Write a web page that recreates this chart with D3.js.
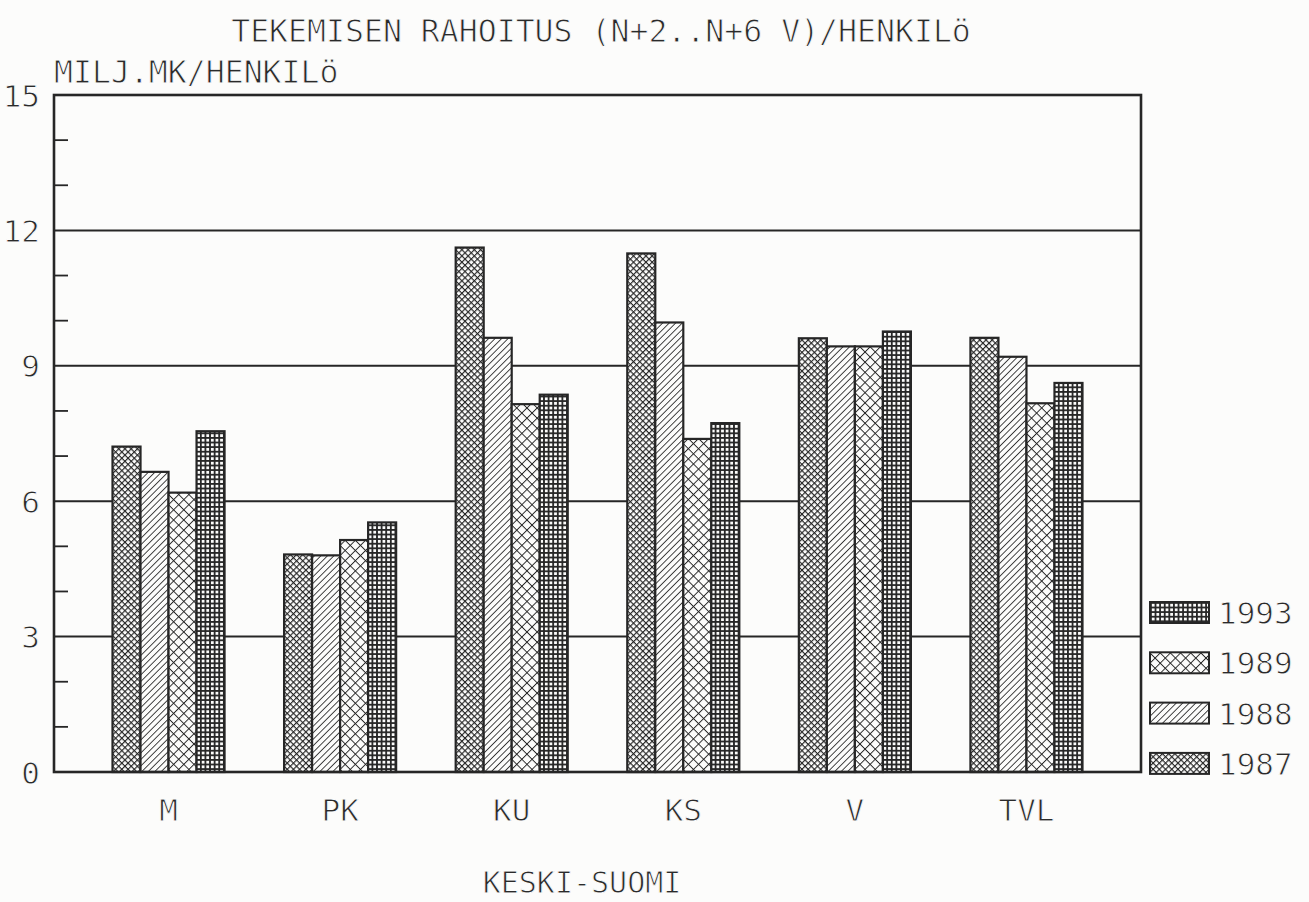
<!DOCTYPE html>
<html>
<head>
<meta charset="utf-8">
<script src="https://cdn.jsdelivr.net/npm/d3@7"></script>
<style>
  html, body { margin: 0; padding: 0; background: #fcfcfb; }
  svg { display: block; }
  text { font-family: "DejaVu Sans Mono", monospace; fill: #2a2a2a; stroke: #fcfcfb; stroke-width: 0.9px; }
</style>
</head>
<body>
<svg id="chart" width="1309" height="902"></svg>
<script>
// Regions and survey years
const regions = ["M", "PK", "KU", "KS", "V", "TVL"];
const years = ["1987", "1988", "1989", "1993"];

// Funding per person (million FIM), one array per year
const v1987 = [7.21, 4.82, 11.62, 11.49, 9.61, 9.62];
const v1988 = [6.65, 4.80, 9.62, 9.96, 9.43, 9.20];
const v1989 = [6.19, 5.14, 8.15, 7.38, 9.43, 8.17];
const v1993 = [7.55, 5.53, 8.36, 7.73, 9.76, 8.62];

const yTicks = [0, 3, 6, 9, 12, 15];
const yMinor = [1, 2, 4, 5, 7, 8, 10, 11, 13, 14];

const title = "TEKEMISEN RAHOITUS (N+2..N+6 V)/HENKILö";
const yTitle = "MILJ.MK/HENKILö";
const xTitle = "KESKI-SUOMI";

const seriesByYear = { "1987": v1987, "1988": v1988, "1989": v1989, "1993": v1993 };
const rows = regions.map((r, i) => ({ region: r, values: years.map(y => ({ year: y, value: seriesByYear[y][i] })) }));

const svg = d3.select("#chart");
const ink = "#262626";
const plotLeft = 54, plotRight = 1141, plotTop = 95, plotBottom = 772;

// Hatch patterns for each year
const defs = svg.append("defs");
function crossHatch(id, size, sw) {
  const p = defs.append("pattern").attr("id", id).attr("patternUnits", "userSpaceOnUse")
    .attr("width", size).attr("height", size).attr("patternTransform", "rotate(45)");
  p.append("rect").attr("width", size).attr("height", size).attr("fill", "#fcfcfb");
  p.append("line").attr("x1", 0).attr("y1", 0).attr("x2", size).attr("y2", 0).attr("stroke", ink).attr("stroke-width", sw);
  p.append("line").attr("x1", 0).attr("y1", 0).attr("x2", 0).attr("y2", size).attr("stroke", ink).attr("stroke-width", sw);
}
function diagonal(id, size, sw) {
  const p = defs.append("pattern").attr("id", id).attr("patternUnits", "userSpaceOnUse")
    .attr("width", size).attr("height", size).attr("patternTransform", "rotate(45)");
  p.append("rect").attr("width", size).attr("height", size).attr("fill", "#fcfcfb");
  p.append("line").attr("x1", 0).attr("y1", 0).attr("x2", 0).attr("y2", size).attr("stroke", ink).attr("stroke-width", sw);
}
function grid(id, size, sw) {
  const p = defs.append("pattern").attr("id", id).attr("patternUnits", "userSpaceOnUse")
    .attr("width", size).attr("height", size);
  p.append("rect").attr("width", size).attr("height", size).attr("fill", "#fcfcfb");
  p.append("line").attr("x1", 0).attr("y1", 0.8).attr("x2", size).attr("y2", 0.8).attr("stroke", ink).attr("stroke-width", sw);
  p.append("line").attr("x1", 0.8).attr("y1", 0).attr("x2", 0.8).attr("y2", size).attr("stroke", ink).attr("stroke-width", sw);
}
crossHatch("p1987", 4.4, 2.3);
diagonal("p1988", 4.6, 1.7);
crossHatch("p1989", 7.2, 1.9);
grid("p1993", 4.6, 2.0);
const fillFor = yr => `url(#p${yr})`;

// Scales
const x0 = d3.scaleBand().domain(regions).range([plotLeft, plotRight]).paddingInner(0.347).paddingOuter(0.341);
const x1 = d3.scaleBand().domain(years).range([0, x0.bandwidth()]).padding(0);
const y = d3.scaleLinear().domain([0, 15]).range([plotBottom, plotTop]);

// Horizontal grid lines at the major ticks
svg.append("g").selectAll("line").data(yTicks.filter(t => t > 0 && t < 15)).join("line")
  .attr("x1", plotLeft).attr("x2", plotRight).attr("y1", d => y(d)).attr("y2", d => y(d))
  .attr("stroke", ink).attr("stroke-width", 2);

// Minor ticks on the left axis
svg.append("g").selectAll("line").data(yMinor).join("line")
  .attr("x1", plotLeft).attr("x2", plotLeft + 14).attr("y1", d => y(d)).attr("y2", d => y(d))
  .attr("stroke", ink).attr("stroke-width", 1.8);

// Bars
const groups = svg.append("g").selectAll("g").data(rows).join("g")
  .attr("transform", d => `translate(${x0(d.region)},0)`);
groups.selectAll("rect").data(d => d.values).join("rect")
  .attr("x", d => x1(d.year)).attr("width", x1.bandwidth())
  .attr("y", d => y(d.value)).attr("height", d => y(0) - y(d.value))
  .attr("fill", d => fillFor(d.year)).attr("stroke", ink).attr("stroke-width", 2.2);

// Plot frame
svg.append("rect").attr("x", plotLeft).attr("y", plotTop).attr("width", plotRight - plotLeft).attr("height", plotBottom - plotTop)
  .attr("fill", "none").attr("stroke", ink).attr("stroke-width", 2.6);

// Y axis labels
const yAxis = d3.axisLeft(y).tickValues(yTicks).tickSize(0).tickPadding(14).tickFormat(d3.format("d"));
const yg = svg.append("g").attr("transform", `translate(${plotLeft},0)`).call(yAxis);
yg.select(".domain").remove();
yg.selectAll("text").attr("font-size", 31).attr("font-family", "DejaVu Sans Mono").attr("fill", ink).attr("dy", "0.36em");

// X axis labels
const xAxis = d3.axisBottom(x0).tickSize(0).tickPadding(27);
const xg = svg.append("g").attr("transform", `translate(0,${plotBottom})`).call(xAxis);
xg.select(".domain").remove();
xg.selectAll("text").attr("font-size", 31).attr("font-family", "DejaVu Sans Mono").attr("fill", ink);

// Titles
svg.append("text").attr("x", 601).attr("y", 42).attr("text-anchor", "middle").attr("font-size", 31.5).text(title);
svg.append("text").attr("x", 54).attr("y", 83).attr("font-size", 31.5).text(yTitle);
svg.append("text").attr("x", 582).attr("y", 893).attr("text-anchor", "middle").attr("font-size", 30).text(xTitle);

// Legend, newest year on top
const legendYears = years.slice().reverse();
const leg = svg.append("g").selectAll("g").data(legendYears).join("g")
  .attr("transform", (d, i) => `translate(1150,${602 + i * 50.3})`);
leg.append("rect").attr("width", 59).attr("height", 21)
  .attr("fill", d => fillFor(d)).attr("stroke", ink).attr("stroke-width", 2);
leg.append("text").attr("x", 68).attr("y", 22).attr("font-size", 31).text(d => d);
</script>
</body>
</html>
